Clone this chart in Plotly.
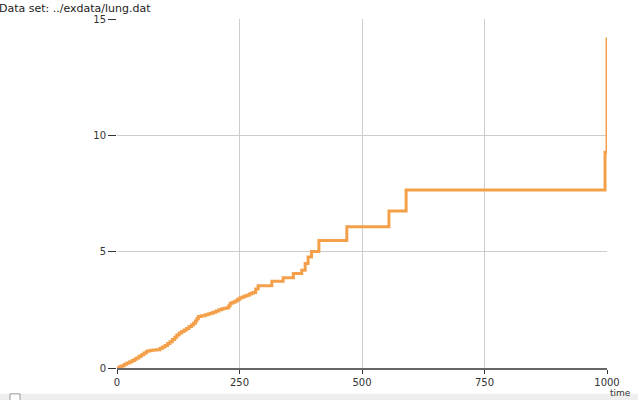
import plotly.graph_objects as go

# Cumulative hazard step curve
times = [0, 5, 10, 15, 20, 26, 31, 36, 40, 45, 50, 55, 60, 65, 70, 75, 81, 88, 93, 98,
         103, 108, 113, 118, 122, 127, 132, 137, 142, 147, 152, 156, 160, 163, 166, 172,
         180, 186, 190, 196, 202, 208, 214, 219, 224, 228, 231, 236, 241, 246, 251, 256,
         260, 265, 270, 274, 278, 283, 288, 316, 339, 360, 377, 384, 390, 397, 412, 469,
         555, 590, 996, 1000]
hazard = [0, 0.05, 0.1, 0.16, 0.21, 0.27, 0.32, 0.38, 0.43, 0.5, 0.57, 0.65, 0.72, 0.74,
          0.76, 0.77, 0.78, 0.85, 0.9, 0.97, 1.05, 1.13, 1.22, 1.32, 1.42, 1.5, 1.57, 1.63,
          1.7, 1.78, 1.85, 1.92, 2.02, 2.12, 2.21, 2.25, 2.29, 2.32, 2.35, 2.4, 2.45, 2.5,
          2.55, 2.57, 2.59, 2.68, 2.78, 2.83, 2.88, 2.95, 3.02, 3.05, 3.09, 3.13, 3.18,
          3.21, 3.25, 3.4, 3.53, 3.73, 3.88, 4.06, 4.2, 4.49, 4.77, 5.01, 5.48, 6.07,
          6.75, 7.65, 9.27, 14.2]

x_ticks = [0, 250, 500, 750, 1000]
y_ticks = [0, 5, 10, 15]

fig = go.Figure()
fig.add_trace(go.Scatter(
    x=times, y=hazard, mode="lines", line=dict(color="#F4A04A", width=3, shape="hv"),
    showlegend=False, cliponaxis=False,
))

font = dict(family="DejaVu Sans", size=10, color="#333333")
H = 351.0

fig.update_layout(
    width=638, height=400,
    margin=dict(l=117, r=31, t=19, b=30),
    plot_bgcolor="white", paper_bgcolor="white",
    font=font,
    xaxis=dict(range=[0, 1000], tickvals=x_ticks, ticktext=[str(v) for v in x_ticks],
               showgrid=True, gridcolor="#CCCCCC", gridwidth=1,
               showline=True, linecolor="#666666", linewidth=2,
               ticks="outside", ticklen=4, tickcolor="#333333", tickwidth=1,
               zeroline=False, fixedrange=True),
    yaxis=dict(range=[0, 15], tickvals=y_ticks, ticktext=[str(v) for v in y_ticks],
               showgrid=True, gridcolor="#CCCCCC", gridwidth=1,
               showline=False, ticks="outside", ticklen=8, tickcolor="#333333",
               tickwidth=1, zeroline=False, fixedrange=True),
    annotations=[
        dict(text="Data set: ../exdata/lung.dat", xref="paper", yref="paper",
             x=-120 / 490, y=(370 - 8) / H, xanchor="left", yanchor="middle",
             showarrow=False, font=dict(family="DejaVu Sans", size=11, color="#222222")),
        dict(text="time", xref="x", yref="paper", x=1000, y=(370 - 388) / H,
             xanchor="left", yanchor="top", xshift=1, showarrow=False,
             font=dict(family="DejaVu Sans", size=9, color="#333333")),
    ],
    shapes=[
        dict(type="rect", xref="paper", yref="paper", x0=-117 / 490, x1=(638 - 117) / 490,
             y0=(370 - 403) / H, y1=(370 - 396) / H, fillcolor="#EEEEEE",
             line=dict(width=0), layer="below"),
        dict(type="rect", xref="paper", yref="paper", x0=(10 - 117) / 490, x1=(20 - 117) / 490,
             y0=(370 - 403) / H, y1=(370 - 396) / H, fillcolor="white",
             line=dict(width=1, color="#999999")),
    ],
)

fig.write_html("out.html", post_script="document.body.style.margin='0';",
               config={"displayModeBar": False})
